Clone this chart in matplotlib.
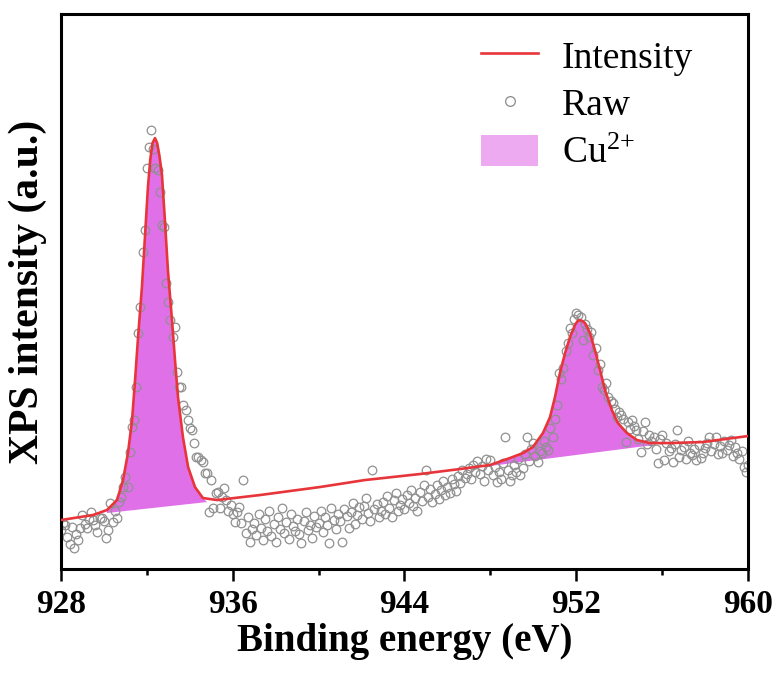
import numpy as np
import matplotlib
matplotlib.use("Agg")
from matplotlib import pyplot as plt
from matplotlib.lines import Line2D
from matplotlib.patches import Patch

# raw XPS counts, one value every 0.1 eV from 928 to 960 eV (arbitrary units)
raw_y = [
    39, 46, 44, 32, 25, 42, 21, 35, 29, 41,
    54, 45, 41, 50, 57, 49, 44, 37, 51, 51,
    48, 31, 39, 66, 47, 58, 51, 67, 72, 82,
    92, 82, 117, 142, 149, 182, 236, 262, 317, 339,
    401, 422, 439, 420, 401, 399, 377, 344, 342, 286,
    267, 249, 232, 242, 197, 182, 182, 164, 159, 149,
    141, 139, 126, 112, 112, 109, 107, 96, 96, 57,
    89, 61, 76, 77, 61, 72, 81, 69, 58, 64,
    55, 47, 57, 62, 46, 89, 36, 52, 27, 40,
    46, 34, 55, 41, 29, 50, 38, 58, 33, 45,
    27, 52, 40, 61, 36, 47, 30, 55, 43, 38,
    50, 35, 26, 48, 57, 39, 44, 31, 53, 42,
    46, 58, 37, 52, 44, 26, 61, 49, 40, 55,
    48, 27, 60, 53, 41, 57, 66, 45, 54, 62,
    50, 63, 71, 56, 48, 99, 60, 65, 52, 58,
    67, 55, 73, 61, 52, 69, 76, 58, 64, 70,
    60, 74, 66, 79, 63, 71, 58, 77, 68, 84,
    99, 72, 80, 67, 75, 84, 70, 79, 88, 74,
    82, 76, 90, 85, 78, 93, 86, 99, 91, 95,
    101, 90, 104, 97, 108, 95, 103, 88, 110, 99,
    109, 94, 102, 87, 97, 90, 106, 132, 99, 88,
    94, 104, 97, 110, 94, 101, 115, 132, 108, 120,
    126, 113, 107, 118, 116, 128, 122, 119, 141, 132,
    150, 164, 196, 190, 201, 218, 226, 241, 236, 250,
    256, 254, 252, 229, 245, 240, 232, 237, 214, 221,
    199, 205, 182, 179, 186, 172, 168, 166, 160, 152,
    157, 154, 150, 127, 147, 140, 149, 143, 139, 130,
    117, 138, 147, 125, 134, 128, 132, 120, 106, 130,
    134, 109, 126, 118, 121, 107, 125, 139, 112, 119,
    122, 110, 128, 116, 114, 120, 109, 124, 111, 116,
    121, 126, 132, 118, 125, 132, 115, 123, 116, 128,
    119, 124, 129, 113, 122, 116, 110, 118, 102, 97,
    104,
]
raw_e = np.linspace(928, 960, len(raw_y))

# fitted envelope
fit_e = [928.0, 929.49, 930.14, 930.61, 930.89, 931.12, 931.31, 931.45, 931.59,
         931.77, 931.91, 932.05, 932.16, 932.26, 932.38, 932.48, 932.58, 932.70,
         932.84, 932.98, 933.17, 933.31, 933.45, 933.68, 933.92, 934.24, 934.61,
         935.27, 937.27, 940.06, 942.16, 944.72, 946.58, 947.98, 948.91, 949.52,
         949.98, 950.45, 950.78, 951.01, 951.24, 951.48, 951.71, 951.94, 952.06,
         952.17, 952.29, 952.41, 952.64, 952.87, 953.11, 953.34, 953.66, 953.94,
         954.36, 954.83, 955.43, 956.37, 957.90, 960.0]
fit_y = [49, 54, 59, 69, 89, 116, 149, 189, 232,
         282, 332, 382, 410, 426, 431, 426, 414, 395,
         349, 299, 249, 209, 172, 132, 102, 82, 71,
         69, 74, 82, 89, 95, 100, 104, 111, 116,
         122, 136, 152, 172, 196, 216, 232, 244, 248,
         249, 248, 246, 236, 219, 199, 179, 159, 146,
         136, 129, 126, 126, 127, 133]

# straight background under each Cu2+ component: (start, end)
base1_e = [930.14, 934.8]
base1_y = [56, 67]
base2_e = [947.98, 955.6]
base2_y = [103, 124]

plt.rcParams['font.family'] = ['Liberation Serif', 'DejaVu Serif']
plt.rcParams['mathtext.fontset'] = 'custom'
plt.rcParams['mathtext.rm'] = 'Liberation Serif'

fig = plt.figure(figsize=(7.82, 6.73), dpi=100)
ax = fig.add_axes([0.078, 0.1545, 0.8785, 0.8245])

fill_col = '#E070E8'
for e0, e1, b in [(base1_e[0], base1_e[1], base1_y), (base2_e[0], base2_e[1], base2_y)]:
    px = [e for e in fit_e if e0 <= e <= e1]
    py = [y for e, y in zip(fit_e, fit_y) if e0 <= e <= e1]
    px += [e1, e0]
    py += [b[1], b[0]]
    ax.fill(px, py, color=fill_col, lw=0, zorder=1)

ax.plot(raw_e, raw_y, 'o', ms=6.2, mfc='none', mec='#909090', mew=0.9, zorder=2)
ax.plot(fit_e, fit_y, color='#E8353A', lw=1.9, zorder=3)

ax.set_xlim(928, 960)
ax.set_ylim(0, 555)
ax.set_xticks([928, 936, 944, 952, 960])
ax.set_xticks([932, 940, 948, 956], minor=True)
ax.set_yticks([])
ax.tick_params(axis='x', which='major', direction='out', length=8.5, width=1.8, pad=6,
               labelsize=24)
ax.tick_params(axis='x', which='minor', direction='out', length=4.5, width=1.8)
for lab in ax.get_xticklabels():
    lab.set_fontweight('bold')
for s in ax.spines.values():
    s.set_linewidth(2.2)

ax.set_xlabel('Binding energy (eV)', fontsize=28, fontweight='bold', labelpad=2)
ax.set_ylabel('XPS intensity (a.u.)', fontsize=30, fontweight='bold', labelpad=10)

handles = [Line2D([], [], color='#E8353A', lw=1.9),
           Line2D([], [], ls='none', marker='o', ms=7, mfc='none', mec='#8a8a8a', mew=0.9),
           Patch(facecolor='#EEAAF0', edgecolor='none')]
ax.legend(handles, ['Intensity', 'Raw', '$\\mathregular{Cu^{2{+}}}$'],
          loc='upper left', bbox_to_anchor=(0.612, 0.955), frameon=False,
          fontsize=27, handlelength=1.5, handleheight=0.9, handletextpad=0.65,
          labelspacing=0.3, borderpad=0, borderaxespad=0)

fig.savefig('out.png', dpi=100)
plt.close(fig)
